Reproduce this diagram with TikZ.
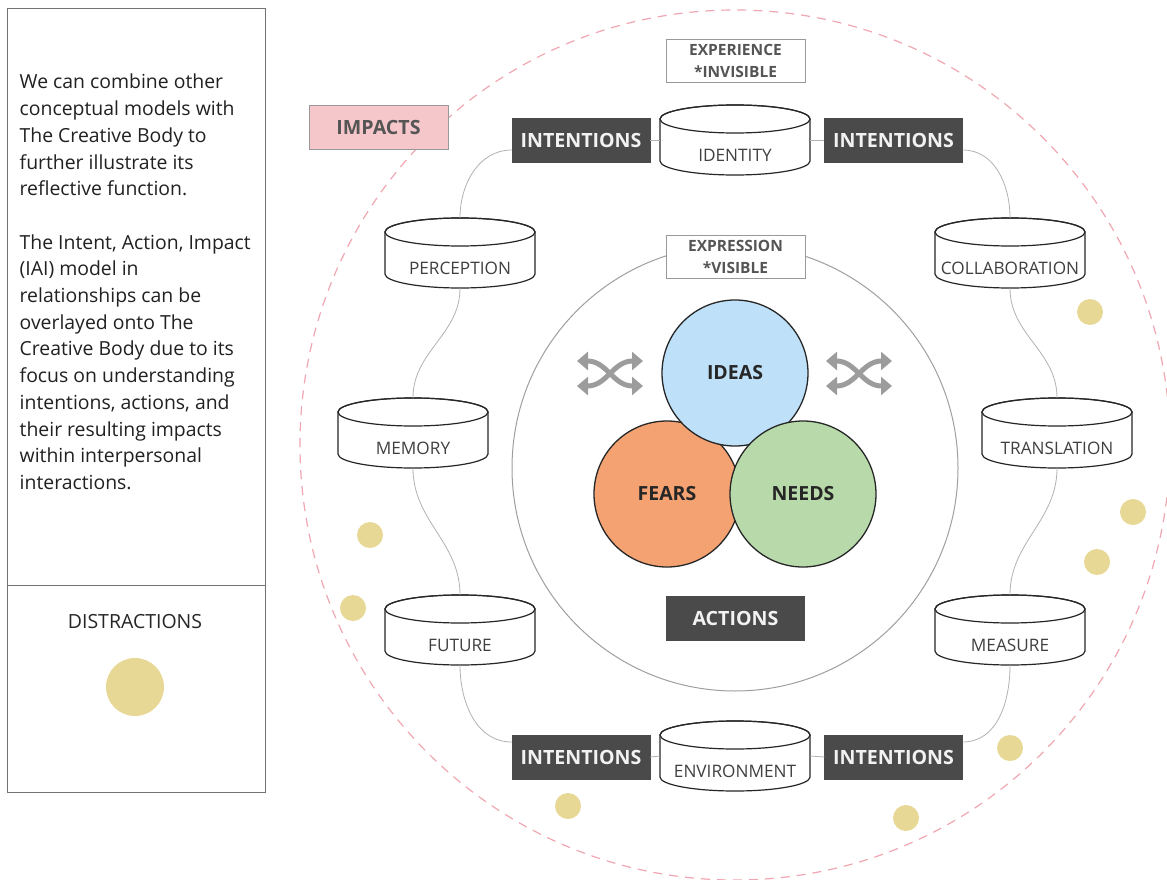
\documentclass[tikz,border=0pt]{standalone}
\usepackage{fontspec}
\setmainfont{Open Sans}
\usetikzlibrary{arrows.meta}
\definecolor{dotc}{HTML}{E8D896}
\definecolor{darkbox}{HTML}{4A4A4A}
\definecolor{pinkfill}{HTML}{F5C6CA}
\definecolor{pinkdash}{HTML}{F0A7B2}
\definecolor{ideasc}{HTML}{BEE0F8}
\definecolor{fearsc}{HTML}{F4A272}
\definecolor{needsc}{HTML}{B8DAAB}
\definecolor{labgray}{HTML}{555555}
\definecolor{shufc}{HTML}{9C9C9C}
\newcommand\mycyl[4]{%
  \node[cylnode] (#1) at (#2,-#3-35) {};
  \draw[cylline,fill=white] (#2-75,-#3-14) -- (#2-75,-#3-56)
     arc[start angle=180,end angle=360,x radius=75,y radius=14]
     -- (#2+75,-#3-14)
     arc[start angle=0,end angle=180,x radius=75,y radius=14] -- cycle;
  \draw[cylline] (#2,-#3-14) ellipse[x radius=75,y radius=14];
  \node[cyltext] at (#2,-#3-50) {#4};
}
\begin{document}
\begin{tikzpicture}[x=1pt,y=1pt,
  intent/.style={fill=darkbox, draw=darkbox, text=white!95!black,
     font=\bfseries\fontsize{19.6}{19.6}\selectfont, minimum width=138pt,
     minimum height=44pt, inner sep=0pt},
  labbox/.style={draw=gray!80, fill=white, text=labgray, align=center,
     font=\bfseries\fontsize{15.5}{22}\selectfont, minimum width=139pt,
     minimum height=43pt, inner sep=0pt, line width=0.8pt},
  cylnode/.style={minimum width=150pt, minimum height=70pt, inner sep=0pt, draw=none},
  cylline/.style={draw=black!85, line width=1.2pt},
  cyltext/.style={text=black!75, font=\fontsize{17.2}{17.2}\selectfont},
  conn/.style={draw=gray!60, line width=0.8pt},
  bigc/.style={circle, draw=black!85, line width=1.3pt, minimum size=146pt,
     inner sep=0pt, font=\bfseries\fontsize{19.5}{19.5}\selectfont, text=black!85},
  dot/.style={circle, fill=dotc, minimum size=26pt, inner sep=0pt},
  shuf/.style={draw=shufc, line width=5pt,
     {Triangle[width=18pt,length=11pt]}-{Triangle[width=18pt,length=11pt]}},
  panel/.style={draw=gray!90!black, line width=0.9pt}
]
\useasboundingbox (0,0) rectangle (1167,-880);
\fill[white] (0,0) rectangle (1167,-880);

% left panel
\draw[panel] (7,-8) rectangle (265,-792);
\draw[panel] (7,-585) -- (265,-585);
\node[anchor=north west, align=left, inner sep=0pt, text=black!87,
  font=\fontsize{19.4}{26.7}\selectfont] (desc) at (19.5,-74)
  {We can combine other\\conceptual models with\\The Creative Body to\\further illustrate its\\reflective function.\\[26.7pt]The Intent, Action, Impact\\(IAI) model in\\relationships can be\\overlayed onto The\\Creative Body due to its\\focus on understanding\\intentions, actions, and\\their resulting impacts\\within interpersonal\\interactions.};
\node[text=black!85, font=\fontsize{19.5}{19.5}\selectfont] (distr) at (135,-622) {DISTRACTIONS};
\node[dot, minimum size=58pt] (legdot) at (135,-687) {};

% outer dashed circle and inner circle
\draw[pinkdash, line width=1.2pt, dash pattern=on 9pt off 7pt] (735,-445) circle[radius=435];
\draw[gray!75, line width=1pt] (735,-468) circle[radius=223];

% distraction dots
\node[dot] (d1) at (370,-535) {};
\node[dot] (d2) at (353,-608) {};
\node[dot] (d3) at (1090,-312) {};
\node[dot] (d4) at (1133,-512) {};
\node[dot] (d5) at (1097,-562) {};
\node[dot] (d6) at (1010,-748) {};
\node[dot] (d7) at (906,-818) {};
\node[dot] (d8) at (568,-806) {};

% boxes
\node[intent] (itl) at (581,-140) {INTENTIONS};
\node[intent] (itr) at (893.5,-140) {INTENTIONS};
\node[intent] (ibl) at (581,-757) {INTENTIONS};
\node[intent] (ibr) at (893.5,-757) {INTENTIONS};
\node[intent] (actions) at (735.5,-618) {ACTIONS};
\node[labbox] (experience) at (735.5,-61) {EXPERIENCE\\*INVISIBLE};
\node[labbox] (expression) at (735.5,-256.5) {EXPRESSION\\*VISIBLE};
\node[labbox, fill=pinkfill, font=\bfseries\fontsize{19.6}{19.6}\selectfont, minimum height=44pt] (impacts) at (378.5,-127) {IMPACTS};

% cylinders
\mycyl{identity}{735}{105}{IDENTITY}
\mycyl{perception}{460}{218}{PERCEPTION}
\mycyl{memory}{413}{398}{MEMORY}
\mycyl{future}{460}{595}{FUTURE}
\mycyl{environment}{735}{721}{ENVIRONMENT}
\mycyl{collaboration}{1010}{218}{COLLABORATION}
\mycyl{translation}{1057}{398}{TRANSLATION}
\mycyl{measure}{1010}{595}{MEASURE}

% connectors
\draw[conn] (itl.east) -- (identity.west);
\draw[conn] (identity.east) -- (itr.west);
\draw[conn] (ibl.east) -- (environment.west);
\draw[conn] (environment.east) -- (ibr.west);
\draw[conn] ([yshift=-10pt]itl.west) to[out=180,in=90] (perception.north);
\draw[conn] (perception.south) to[out=-90,in=90] (memory.north);
\draw[conn] (memory.south) to[out=-90,in=90] (future.north);
\draw[conn] (future.south) to[out=-90,in=180] ([yshift=15pt]ibl.west);
\draw[conn] ([yshift=-10pt]itr.east) to[out=0,in=90] (collaboration.north);
\draw[conn] (collaboration.south) to[out=-90,in=90] (translation.north);
\draw[conn] (translation.south) to[out=-90,in=90] (measure.north);
\draw[conn] (measure.south) to[out=-90,in=0] ([yshift=15pt]ibr.east);

% central circles
\node[bigc, fill=fearsc] (fears) at (667,-494) {FEARS};
\node[bigc, fill=ideasc] (ideas) at (735,-373) {IDEAS};
\node[bigc, fill=needsc] (needs) at (803,-494) {NEEDS};

% shuffle icons
\draw[shuf] (577,-361) .. controls (607,-361) and (613,-386) .. (643,-386);
\draw[shuf] (577,-386) .. controls (607,-386) and (613,-361) .. (643,-361);
\draw[shuf] (826,-361) .. controls (856,-361) and (862,-386) .. (892,-386);
\draw[shuf] (826,-386) .. controls (856,-386) and (862,-361) .. (892,-361);
\end{tikzpicture}
\end{document}
